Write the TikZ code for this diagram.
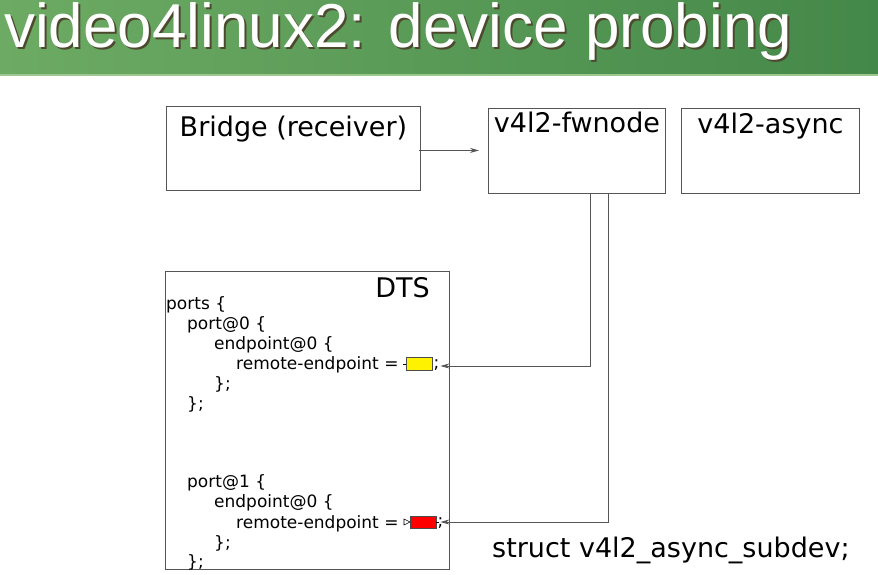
\documentclass[tikz,border=0pt]{standalone}
\usepackage{fontspec}
\setmainfont{DejaVu Sans}
\newfontfamily\titlefont{Liberation Sans}
\usetikzlibrary{arrows.meta,calc,positioning}
\definecolor{bannerL}{HTML}{6DAB64}
\definecolor{bannerR}{HTML}{448849}
\definecolor{bannerLine}{HTML}{9CC88F}
\definecolor{boxgray}{HTML}{555555}
\newcommand{\slidetitle}{\scalebox{1.0}[1]{video4linux2: device probing}}
\tikzset{
  block/.style={draw=boxgray, line width=0.9pt, anchor=north west, inner sep=0pt},
  blocktext/.style={font=\fontsize{27}{30}\selectfont, anchor=base, inner sep=0pt},
  codeline/.style={font=\fontsize{17}{20}\selectfont, anchor=base west, inner sep=0pt},
  link/.style={draw=boxgray, line width=0.8pt, -{Stealth[length=9pt,width=5pt]}},
}
\begin{document}
\begin{tikzpicture}[x=1pt, y=1pt]
    \useasboundingbox (0,0) rectangle (878,-575);
    % Bandeau de titre
    \shade[left color=bannerL, right color=bannerR] (0,0) rectangle (878,-74);
    \fill[bannerLine] (0,-74) rectangle (878,-76);
    \node[anchor=base west, inner sep=0pt, text=black!60!olive, font=\titlefont\fontsize{62}{70}\selectfont] (shadow) at (6,-50) {\slidetitle};
    \node[anchor=base west, inner sep=0pt, text=white, font=\titlefont\fontsize{62}{70}\selectfont] (title) at (4,-48) {\slidetitle};
    % Blocs du haut
    \node[block, minimum width=254pt, minimum height=84pt] (bridge) at (166,-106) {};
    \node[block, minimum width=177pt, minimum height=85pt] (fwnode) at (488,-108) {};
    \node[block, minimum width=178pt, minimum height=85pt] (async) at (681,-108) {};
    \node[blocktext] (bridgetxt) at ($(bridge.north)+(0,-31)$) {Bridge (receiver)};
    \node[blocktext] (fwnodetxt) at ($(fwnode.north)+(0,-24)$) {v4l2-fwnode};
    \node[blocktext] (asynctxt) at ($(async.north)+(0,-26)$) {v4l2-async};
    \coordinate (brout) at ($(bridge.east)+(-2,-2)$);
    \coordinate (fwin) at ($(fwnode.west)+(-9,0)$);
    \draw[link] (brout) -- (fwin |- brout);
    % Bloc DTS
    \node[block, minimum width=284pt, minimum height=298pt] (dts) at (165,-271) {};
    \node[anchor=base east, inner sep=0pt, font=\fontsize{27}{30}\selectfont] (dtstxt) at ($(dts.north east)+(-20,-26)$) {DTS};
    \node[codeline] (l1) at (166,-309) {ports \{};
    \node[codeline] (l2) at (187,-329) {port@0 \{};
    \node[codeline] (l3) at (214,-349) {endpoint@0 \{};
    \node[codeline] (l4) at (236,-369) {remote-endpoint = };
    \node[codeline] (l5) at (214,-389) {\};};
    \node[codeline] (l6) at (187,-409) {\};};
    \node[codeline] (m2) at (187,-487) {port@1 \{};
    \node[codeline] (m3) at (214,-507) {endpoint@0 \{};
    \node[codeline] (m4) at (236,-528) {remote-endpoint = };
    \node[codeline] (m5) at (214,-548) {\};};
    \node[codeline] (m6) at (187,-567) {\};};
    % References
    \node[draw=black!70, fill=yellow, minimum width=26pt, minimum height=13pt, inner sep=0pt, anchor=west] (yref) at (406,-364) {};
    \node[codeline, anchor=west] (ysemi) at ($(yref.east)+(1,-1)$) {;};
    \draw[line width=0.8pt] ($(yref.west)+(-3,0)$) -- (yref.west);
    \node[draw=black!70, fill=red, minimum width=26pt, minimum height=12pt, inner sep=0pt, anchor=west] (rref) at (410,-522) {};
    \node[codeline, anchor=west] (rsemi) at ($(rref.east)+(1,-1)$) {;};
    \draw[line width=0.6pt] (rref.west) -- ++(-6,3) -- ++(0,-6) -- cycle;
    \draw[line width=0.8pt] (rref.east) -- ++(3,0);
    % Liens fwnode -> DTS
    \coordinate (out0) at ($(fwnode.south west)+(102,0)$);
    \coordinate (out1) at ($(fwnode.south west)+(120,0)$);
    \coordinate (in0) at ($(yref.east)+(8,-2)$);
    \coordinate (in1) at ($(rref.east)+(4,0)$);
    \draw[link] (out0) |- (in0);
    \draw[link] (out1) |- (in1);
    \node[anchor=base west, inner sep=0pt, font=\fontsize{27}{30}\selectfont] (subdev) at (492,-557) {struct v4l2\_async\_subdev;};
\end{tikzpicture}
\end{document}
